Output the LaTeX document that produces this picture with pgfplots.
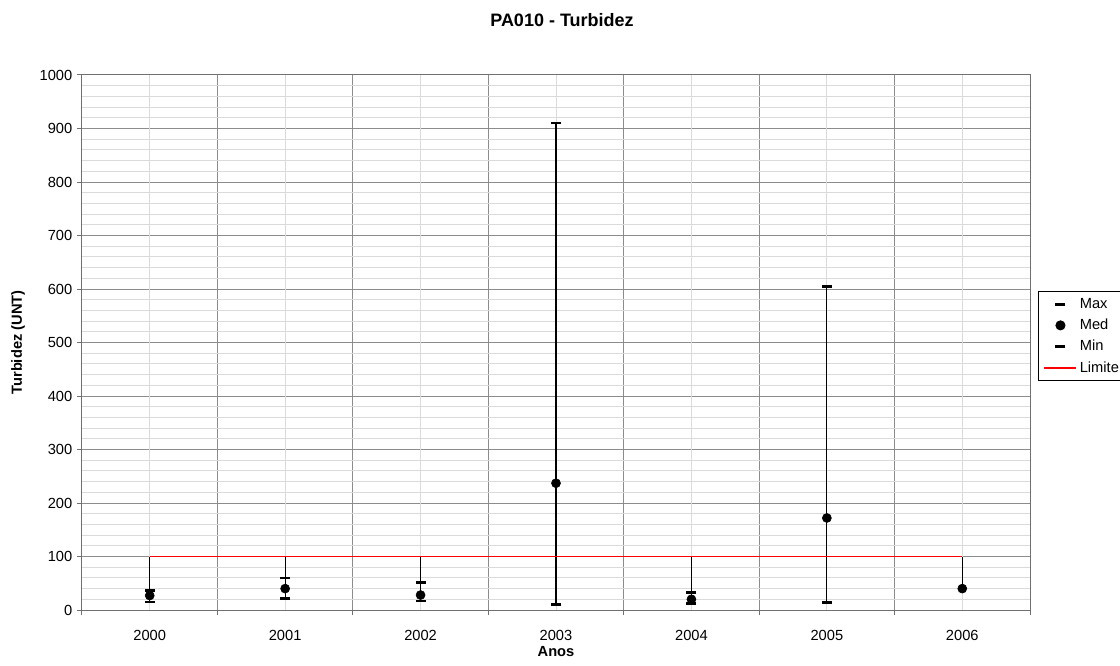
\documentclass[border=0pt]{standalone}
\usepackage{pgfplots}
\pgfplotsset{compat=1.18}
\usepackage{pgfplotstable}
\usepackage{fontspec}
\setmainfont{Liberation Sans}
\definecolor{gridmaj}{HTML}{8C8C8C}
\definecolor{gridmin}{HTML}{DADADA}
\definecolor{axcol}{HTML}{707070}
\definecolor{limred}{HTML}{FF0000}

\pgfplotsset{
  markleg/.style={legend image code/.code={\draw[##1] plot[only marks] coordinates {(12pt,0pt)};}},
  lineleg/.style={legend image code/.code={\path[draw=limred, line width=1pt] (0pt,0pt) -- (24pt,0pt);}},
}

\pgfplotstableread{
x max med min
0 37 27 15
1 60 40 21
2 52 28 17
3 910 237 10
4 33 20 12
5 605 172 14
6 nan 40 nan
}\datatable

\begin{document}
\begin{tikzpicture}
\begin{axis}[
  name=ax,
  at={(0,0)}, anchor=south west,
  scale only axis,
  width=711pt, height=401.25pt,
  xmin=-0.5, xmax=6.5,
  ymin=0, ymax=1000,
  xtick={-0.5,0.5,...,6.5},
  xticklabels={},
  extra x ticks={0,1,2,3,4,5,6},
  extra x tick labels={2000,2001,2002,2003,2004,2005,2006},
  extra x tick style={major tick length=0pt, grid=major, major grid style={draw=gridmin, line width=0.75pt}},
  ytick={0,100,...,1000},
  minor y tick num=4,
  minor tick length=0pt,
  major tick length=3.75pt,
  tick align=outside,
  tick pos=left,
  tick style={draw=axcol, line width=0.75pt},
  xmajorgrids, ymajorgrids, yminorgrids,
  major grid style={draw=gridmaj, line width=0.75pt},
  minor grid style={draw=gridmin, line width=0.75pt},
  axis line style={draw=axcol, line width=0.75pt},
  /pgf/number format/assume math mode=true,
  /pgf/number format/1000 sep={},
  tick label style={font=\fontsize{11}{13}\selectfont},
  xticklabel style={yshift=-11.5pt},
  label style={font=\fontsize{11}{13}\selectfont\bfseries},
  xlabel={Anos},
  ylabel={Turbidez (UNT)},
  xlabel style={at={(0.5,0)}, anchor=center, yshift=-31.5pt},
  ylabel style={at={(0,0.5)}, anchor=center, rotate=0, yshift=48pt},
  legend cell align=left,
  legend style={at={(1.0084,0.596)}, anchor=north west, draw=black, line width=0.75pt,
    font=\fontsize{11}{13}\selectfont, row sep=2.5pt, inner xsep=4pt, inner ysep=3pt},
  clip=false,
]
% high-low lines
\addplot[black, line width=0.85pt, forget plot] coordinates {(0,15) (0,100)};
\addplot[black, line width=0.85pt, forget plot] coordinates {(1,21) (1,100)};
\addplot[black, line width=0.85pt, forget plot] coordinates {(2,17) (2,100)};
\addplot[black, line width=0.85pt, forget plot] coordinates {(3,10) (3,910)};
\addplot[black, line width=0.85pt, forget plot] coordinates {(4,12) (4,100)};
\addplot[black, line width=0.85pt, forget plot] coordinates {(5,14) (5,605)};
\addplot[black, line width=0.85pt, forget plot] coordinates {(6,40) (6,100)};

\addplot[only marks, mark=-, mark size=3.75pt, mark options={draw=black, line width=2pt}, markleg]
  table[x=x, y=max] {\datatable};
\addlegendentry{Max}
\addplot[only marks, mark=*, mark size=3.4pt, mark options={draw=black, fill=black}, markleg]
  table[x=x, y=med] {\datatable};
\addlegendentry{Med}
\addplot[only marks, mark=-, mark size=3.75pt, mark options={draw=black, line width=2pt}, markleg]
  table[x=x, y=min] {\datatable};
\addlegendentry{Min}
\addplot[draw=limred, line width=0.75pt, mark=none, lineleg]
  coordinates {(0,100) (1,100) (2,100) (3,100) (4,100) (5,100) (6,100)};
\addlegendentry{Limite\hspace*{20pt}}
\end{axis}
\node[font=\fontsize{13.5}{16}\selectfont\bfseries] at ([xshift=360pt, yshift=442.5pt]ax.south west) {PA010 - Turbidez};
\pgfresetboundingbox
\path[use as bounding box] ([xshift=-61.5pt, yshift=-41.25pt]ax.south west) rectangle ([xshift=778.5pt, yshift=457.5pt]ax.south west);
\end{tikzpicture}
\end{document}
